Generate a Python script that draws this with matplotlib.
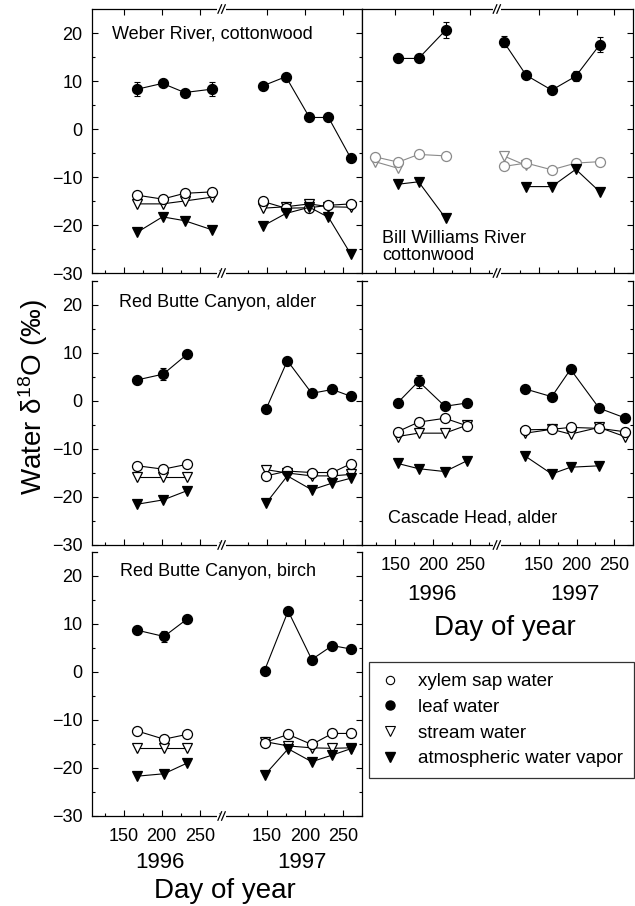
import numpy as np
import matplotlib
matplotlib.use("Agg")
import matplotlib.pyplot as plt
from matplotlib.lines import Line2D

plt.rcParams['font.family'] = ['Liberation Sans', 'DejaVu Sans']
plt.rcParams['mathtext.fontset'] = 'custom'
plt.rcParams['mathtext.rm'] = 'Liberation Sans'
plt.rcParams['mathtext.it'] = 'Liberation Sans:italic'
plt.rcParams['mathtext.bf'] = 'Liberation Sans:bold'

nan = np.nan

# ---------------- data: water d18O (permil) by day of year ----------------
# Weber River, cottonwood
weber_days96 = [168, 201, 230, 266]
weber_xylem96 = [-13.8, -14.6, -13.4, -13.1]
weber_leaf96 = [8.3, 9.5, 7.6, 8.3]
weber_leaf96_err = [1.5, 0, 0, 1.5]
weber_stream96 = [-15.6, -15.6, -15.0, -14.2]
weber_vapor96 = [-21.5, -18.3, -19.1, -21.0]
weber_days97 = [145, 175, 206, 231, 260]
weber_xylem97 = [-15.1, -16.5, -16.4, -15.9, -15.6]
weber_leaf97 = [9.0, 10.9, 2.4, 2.4, -6.0]
weber_leaf97_err = [0, 0, 0, 0, 0]
weber_stream97 = [-16.5, -16.2, -15.6, -16.2, -16.3]
weber_vapor97 = [-20.2, -17.6, -16.3, -18.4, -26.0]

# Red Butte Canyon, alder
rba_days96 = [168, 202, 233]
rba_xylem96 = [-13.5, -14.2, -13.2]
rba_leaf96 = [4.4, 5.6, 9.7]
rba_leaf96_err = [0, 1.2, 0]
rba_stream96 = [-15.8, -15.8, -15.8]
rba_vapor96 = [-21.5, -20.6, -18.7]
rba_days97 = [149, 177, 209, 236, 260]
rba_xylem97 = [-15.6, -14.6, -14.9, -14.9, -13.1]
rba_leaf97 = [-1.7, 8.4, 1.6, 2.4, 1.0]
rba_leaf97_err = [0, 0, 0, 0, 0]
rba_stream97 = [-14.3, -15.0, -15.6, -15.6, -15.3]
rba_vapor97 = [-21.3, -15.6, -18.5, -17.1, -16.1]

# Red Butte Canyon, birch
rbb_days96 = [168, 203, 233]
rbb_xylem96 = [-12.3, -14.0, -13.0]
rbb_leaf96 = [8.7, 7.4, 11.0]
rbb_leaf96_err = [0, 1.2, 0]
rbb_stream96 = [-15.9, -15.9, -15.9]
rbb_vapor96 = [-21.7, -21.2, -19.0]
rbb_days97 = [147, 178, 209, 236, 260]
rbb_xylem97 = [-14.7, -13.0, -15.1, -12.8, -12.8]
rbb_leaf97 = [0.3, 12.7, 2.6, 5.5, 4.8]
rbb_leaf97_err = [0, 0, 0, 0, 0]
rbb_stream97 = [-14.5, -15.4, -15.8, -15.9, -15.8]
rbb_vapor97 = [-21.5, -16.0, -18.7, -17.3, -16.0]

# Bill Williams River, cottonwood
bw_days96 = [123, 154, 181, 217]
bw_xylem96 = [-5.8, -6.9, -5.3, -5.6]
bw_leaf96 = [nan, 14.7, 14.7, 20.6]
bw_leaf96_err = [0, 0.8, 0.8, 1.6]
bw_stream96 = [-6.8, -8.2, nan, nan]
bw_vapor96 = [nan, -11.5, -11.0, -18.6]
bw_days97 = [103, 133, 167, 199, 231]
bw_xylem97 = [-7.8, -7.1, -8.5, -7.1, -6.8]
bw_leaf97 = [18.2, 11.2, 8.1, 11.0, 17.6]
bw_leaf97_err = [1.2, 0, 0, 1.0, 1.5]
bw_stream97 = [-5.6, -7.6, nan, nan, nan]
bw_vapor97 = [nan, -12.0, -12.0, -8.4, -13.1]

# Cascade Head, alder
ch_days96 = [153, 181, 216, 246]
ch_xylem96 = [-6.4, -4.4, -3.6, -5.2]
ch_leaf96 = [-0.4, 4.1, -1.1, -0.4]
ch_leaf96_err = [0, 1.3, 0, 0]
ch_stream96 = [-7.4, -6.7, -6.7, -5.0]
ch_vapor96 = [-13.0, -14.1, -14.7, -12.4]
ch_days97 = [132, 167, 192, 230, 264]
ch_xylem97 = [-6.0, -5.9, -5.5, -5.7, -6.4]
ch_leaf97 = [2.5, 0.9, 6.6, -1.5, -3.5]
ch_leaf97_err = [0, 0, 0, 0, 0]
ch_stream97 = [-6.7, -5.9, -6.9, -5.5, -7.4]
ch_vapor97 = [-11.5, -15.2, -13.8, -13.5, nan]

day_ticks = [150, 200, 250]
day_minor = [125, 175, 225, 275]
years = ['1996', '1997']
series_labels = ['xylem sap water', 'leaf water', 'stream water',
                 'atmospheric water vapor']

# ---------------- layout ----------------
W, H = 635, 906
fig = plt.figure(figsize=(W / 100, H / 100), dpi=100)
fig.patch.set_facecolor('white')


def px_rect(x, y, w, h):
    return [x / W, 1 - (y + h) / H, w / W, h / H]


# per column: x-limits (continuous day axis), 1997 shift, break position
columns = {
    'left': dict(x=92, w=270, xlim=(108.4, 459.0), shift=188, brk=278.6),
    'right': dict(x=362, w=271, xlim=(105.8, 457.8), shift=191, brk=285.0),
}

panels = [
    dict(col='left', top=9, frame_top=True, xlabels=False,
         title='Weber River, cottonwood', tpos=(0.074, 0.905),
         d96=weber_days96, d97=weber_days97,
         xy96=weber_xylem96, xy97=weber_xylem97,
         lf96=weber_leaf96, lf97=weber_leaf97,
         le96=weber_leaf96_err, le97=weber_leaf97_err,
         st96=weber_stream96, st97=weber_stream97,
         va96=weber_vapor96, va97=weber_vapor97, ground='k'),
    dict(col='left', top=281, frame_top=False, xlabels=False,
         title='Red Butte Canyon, alder', tpos=(0.1, 0.918),
         d96=rba_days96, d97=rba_days97,
         xy96=rba_xylem96, xy97=rba_xylem97,
         lf96=rba_leaf96, lf97=rba_leaf97,
         le96=rba_leaf96_err, le97=rba_leaf97_err,
         st96=rba_stream96, st97=rba_stream97,
         va96=rba_vapor96, va97=rba_vapor97, ground='k'),
    dict(col='left', top=552, frame_top=False, xlabels=True,
         title='Red Butte Canyon, birch', tpos=(0.104, 0.926),
         d96=rbb_days96, d97=rbb_days97,
         xy96=rbb_xylem96, xy97=rbb_xylem97,
         lf96=rbb_leaf96, lf97=rbb_leaf97,
         le96=rbb_leaf96_err, le97=rbb_leaf97_err,
         st96=rbb_stream96, st97=rbb_stream97,
         va96=rbb_vapor96, va97=rbb_vapor97, ground='k'),
    dict(col='right', top=9, frame_top=True, xlabels=False,
         title='Bill Williams River\ncottonwood', tpos=(0.074, 0.098),
         d96=bw_days96, d97=bw_days97,
         xy96=bw_xylem96, xy97=bw_xylem97,
         lf96=bw_leaf96, lf97=bw_leaf97,
         le96=bw_leaf96_err, le97=bw_leaf97_err,
         st96=bw_stream96, st97=bw_stream97,
         va96=bw_vapor96, va97=bw_vapor97, ground='#8a8a8a'),
    dict(col='right', top=281, frame_top=False, xlabels=True,
         title='Cascade Head, alder', tpos=(0.096, 0.104),
         d96=ch_days96, d97=ch_days97,
         xy96=ch_xylem96, xy97=ch_xylem97,
         lf96=ch_leaf96, lf97=ch_leaf97,
         le96=ch_leaf96_err, le97=ch_leaf97_err,
         st96=ch_stream96, st97=ch_stream97,
         va96=ch_vapor96, va97=ch_vapor97, ground='k'),
]

LW = 0.8
MS = 7.2


def break_mark(ax, xb, yax):
    tr = ax.get_xaxis_transform()
    ax.plot([xb - 5.5, xb + 5.5], [yax, yax], color='white', lw=3,
            transform=tr, clip_on=False, zorder=5, solid_capstyle='butt')
    for s in (-1, 1):
        cx = xb + s * 2.4
        ax.plot([cx - 2.4, cx + 2.4], [yax - 0.016, yax + 0.016], color='k',
                lw=0.9, transform=tr, clip_on=False, zorder=6)


def draw_series(ax, x, y, marker, face, edge, zorder):
    ax.plot(x, y, color=edge, lw=LW, marker=marker, markersize=MS,
            markerfacecolor=face, markeredgecolor=edge, markeredgewidth=0.9,
            zorder=zorder, clip_on=True)


for p in panels:
    c = columns[p['col']]
    ax = fig.add_axes(px_rect(c['x'], p['top'], c['w'], 264))
    ax.set_xlim(*c['xlim'])
    ax.set_ylim(-30, 25)
    shift = c['shift']

    for days, xy, lf, le, st, va, add in (
            (p['d96'], p['xy96'], p['lf96'], p['le96'], p['st96'], p['va96'], 0),
            (p['d97'], p['xy97'], p['lf97'], p['le97'], p['st97'], p['va97'], shift)):
        x = np.asarray(days, float) + add
        g = p['ground']
        draw_series(ax, x, st, 'v', 'white', g, 3)
        draw_series(ax, x, xy, 'o', 'white', g, 3.2)
        draw_series(ax, x, va, 'v', 'k', 'k', 3.4)
        err = np.asarray(le, float)
        lfa = np.asarray(lf, float)
        m = err > 0
        if m.any():
            ax.errorbar(x[m], lfa[m], yerr=err[m], fmt='none', ecolor='k',
                        elinewidth=0.8, capsize=2.2, capthick=0.8, zorder=3.5)
        draw_series(ax, x, lf, 'o', 'k', 'k', 3.6)

    # ticks
    ax.set_yticks(range(-30, 21, 10))
    ax.set_yticks(range(-30, 25, 5), minor=True)
    ax.set_xticks(day_ticks + [d + shift for d in day_ticks])
    ax.set_xticks(day_minor + [d + shift for d in day_minor], minor=True)
    ax.set_xticklabels([str(d) for d in day_ticks] * 2)

    left_col = p['col'] == 'left'
    ax.tick_params(which='both', direction='in', width=0.8, labelsize=13,
                   left=left_col, right=True, bottom=True, top=p['frame_top'],
                   labelleft=left_col, labelright=False,
                   labelbottom=p['xlabels'], labeltop=False)
    ax.tick_params(which='minor', top=False)
    ax.tick_params(which='major', length=4.0)
    ax.tick_params(which='minor', length=2.4)
    ax.tick_params(axis='y', pad=7)
    ax.tick_params(axis='x', pad=8.5)

    for sp in ax.spines.values():
        sp.set_linewidth(0.9)
    if not p['frame_top']:
        ax.spines['top'].set_visible(False)
        for xs in ((0, 0.02), (0.98, 1.0)):
            ax.plot(xs, [1, 1], color='k', lw=0.9, transform=ax.transAxes,
                    clip_on=False, zorder=5)
    else:
        break_mark(ax, c['brk'], 1.0)
    break_mark(ax, c['brk'], 0.0)

    ax.text(p['tpos'][0], p['tpos'][1], p['title'], transform=ax.transAxes,
            fontsize=13, ha='left', va='center', linespacing=1.05)

# axis captions
fig.text(33 / W, 1 - 397 / H, 'Water \u03b4$^{18}$O (\u2030)', rotation=90,
         ha='center', va='center', fontsize=20)
for (x96, x97, yb, yd, xd) in ((160, 302, 868, 898, 225),
                               (432, 575, 600, 635, 505)):
    fig.text(x96 / W, 1 - yb / H, years[0], ha='center', va='baseline',
             fontsize=16)
    fig.text(x97 / W, 1 - yb / H, years[1], ha='center', va='baseline',
             fontsize=16)
    fig.text(xd / W, 1 - yd / H, 'Day of year', ha='center', va='baseline',
             fontsize=20)

# legend
handles = [
    Line2D([], [], ls='none', marker='o', markersize=6, markerfacecolor='white',
           markeredgecolor='k', markeredgewidth=0.8),
    Line2D([], [], ls='none', marker='o', markersize=6.5, markerfacecolor='k',
           markeredgecolor='k'),
    Line2D([], [], ls='none', marker='v', markersize=6.5, markerfacecolor='white',
           markeredgecolor='k', markeredgewidth=0.8),
    Line2D([], [], ls='none', marker='v', markersize=6.5, markerfacecolor='k',
           markeredgecolor='k'),
]
leg = fig.legend(handles, series_labels, loc='upper left',
                 bbox_to_anchor=(369 / W, 1 - 662 / H), frameon=True,
                 fancybox=False, edgecolor='k', fontsize=13.5, borderaxespad=0,
                 borderpad=0.6, handlelength=1.0, handletextpad=1.0,
                 labelspacing=0.45)
leg.get_frame().set_linewidth(0.9)

fig.savefig('out.png', dpi=100, facecolor='white')
